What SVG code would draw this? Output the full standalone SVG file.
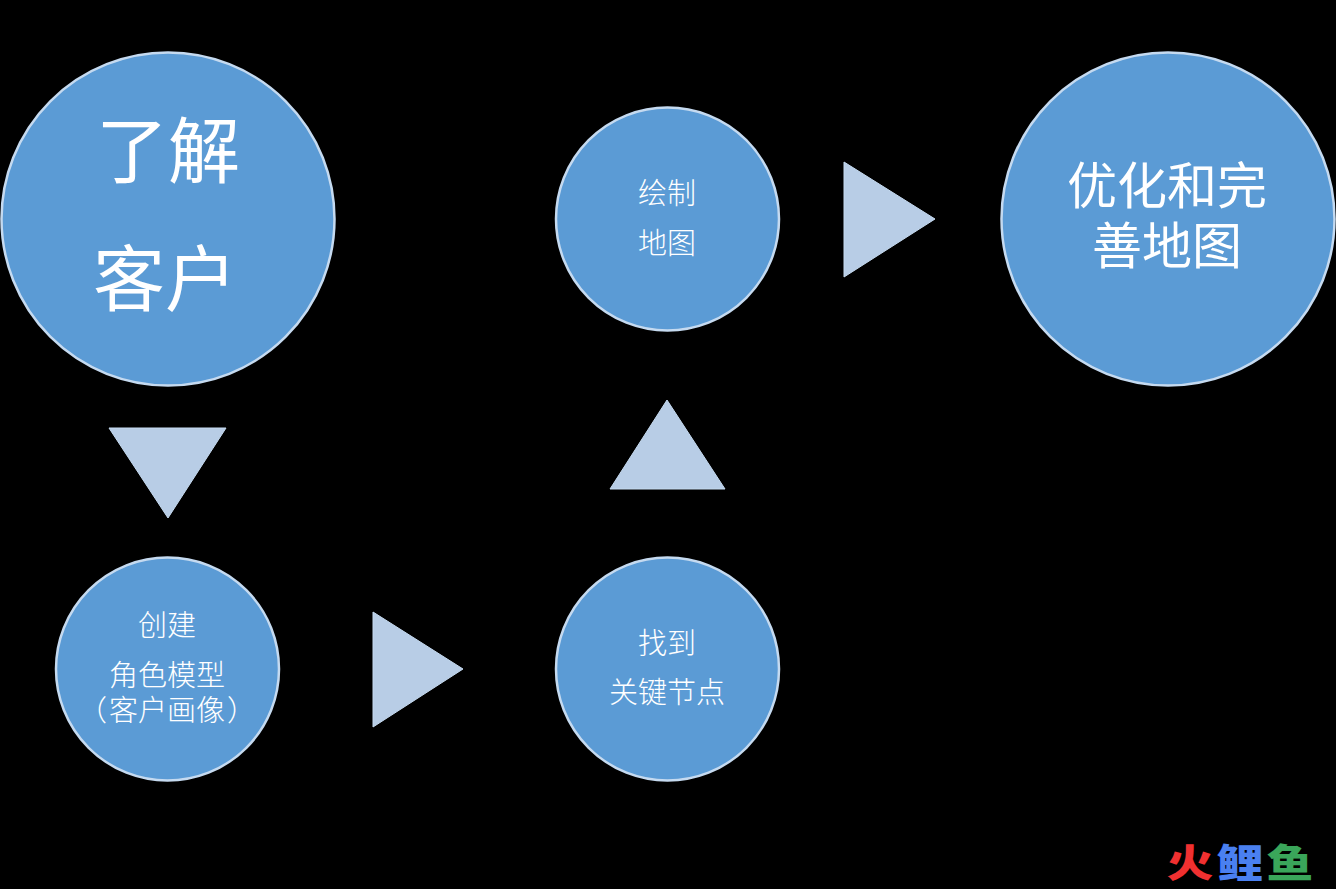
<svg xmlns="http://www.w3.org/2000/svg" width="1336" height="889" viewBox="0 0 1336 889">
<style>
.n{fill:#5b9bd5;stroke:#c5daf0;stroke-width:2.5}
.t{fill:#b8cde6;stroke:#c5daf0;stroke-width:1}
text{fill:#fff;font-family:"Noto Sans CJK SC","Noto Sans",sans-serif;text-anchor:middle;font-weight:400}
.s{font-size:29px;font-weight:300}
.m{font-size:50px}
.l{font-size:72px}
.w{font-size:39px;font-weight:900}
</style>
<rect width="1336" height="889" fill="#000"/>
<g id="connectors">
<polygon class="t" points="109,428 226,428 168,518"/>
<polygon class="t" points="373,612 463,669 373,727"/>
<polygon class="t" points="610,489 725,489 667,400"/>
<polygon class="t" points="844,162 935,219 844,277"/>
</g>
<g id="node-understand"><circle class="n" cx="168" cy="219" r="166.500"/>
<text class="l" x="168" y="177">了解</text><text class="l" x="165" y="305">客户</text></g>
<g id="node-persona"><circle class="n" cx="167.500" cy="669" r="111.500"/>
<text class="s" x="167" y="636">创建</text><text class="s"><tspan x="167" y="686">角色模型</tspan><tspan x="167" y="721">（<tspan dx="2">客户画像</tspan><tspan dx="2">）</tspan></tspan></text></g>
<g id="node-touchpoints"><circle class="n" cx="667.500" cy="669" r="111.500"/>
<text class="s" x="667" y="654">找到</text><text class="s" x="667" y="703">关键节点</text></g>
<g id="node-draw"><circle class="n" cx="667.500" cy="219" r="111.500"/>
<text class="s" x="667" y="204">绘制</text><text class="s" x="667" y="254">地图</text></g>
<g id="node-optimize"><circle class="n" cx="1168" cy="219" r="166.500"/>
<text class="m"><tspan x="1167" y="204">优化和完</tspan><tspan x="1167" y="264">善地图</tspan></text></g>
<g id="watermark"><text class="w" transform="translate(1190 877) scale(1.2 1)" style="fill:#f03030">火</text><text class="w" transform="translate(1240 877) scale(1.2 1)" style="fill:#4a80f0">鲤</text><text class="w" transform="translate(1290 877) scale(1.2 1)" style="fill:#3aa65a">鱼</text></g>
</svg>
